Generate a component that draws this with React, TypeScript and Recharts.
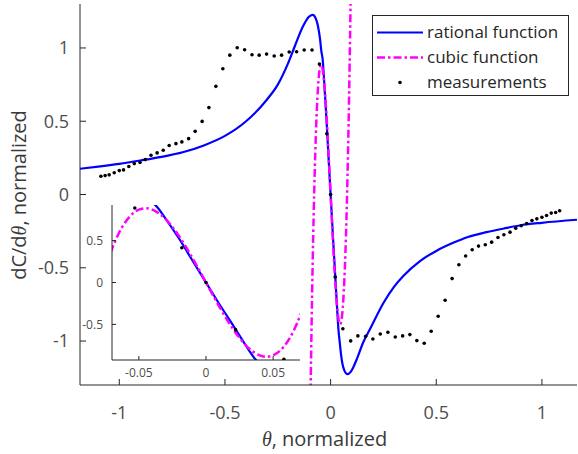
import { ComposedChart, Line, Scatter, XAxis, YAxis, Legend, CartesianGrid } from "recharts";

const rationalX = [
  -1.19, -1.1, -1.0, -0.9, -0.8, -0.7, -0.6, -0.5, -0.4, -0.3, -0.25, -0.2, -0.17, -0.13, -0.105, -0.085,
  -0.07, -0.06, -0.05, -0.044, -0.0375, -0.03, -0.0195, -0.01, 0, 0.01, 0.0205, 0.03, 0.0368, 0.044,
  0.05, 0.06, 0.079, 0.095, 0.107, 0.125, 0.154, 0.186, 0.25, 0.3, 0.344, 0.423, 0.5, 0.58, 0.65,
  0.738, 0.82, 0.9, 1.0, 1.17,
];
const rationalY = [
  0.175, 0.19, 0.209, 0.232, 0.257, 0.288, 0.335, 0.4, 0.5, 0.65, 0.75, 0.9, 1.01, 1.15, 1.21, 1.226,
  1.2, 1.15, 1.06, 0.98, 0.92, 0.76, 0.51, 0.26, 0, -0.26, -0.52, -0.76, -0.917, -1.02,
  -1.1, -1.18, -1.226, -1.21, -1.18, -1.12, -1.01, -0.92, -0.74, -0.63, -0.556, -0.454, -0.385, -0.33, -0.29,
  -0.257, -0.232, -0.21, -0.193, -0.172,
];

const cubicX = [
  -0.097, -0.094, -0.09, -0.085, -0.08, -0.075, -0.07, -0.065, -0.06, -0.055, -0.05, -0.045, -0.04, -0.035,
  -0.03, -0.025, -0.02, -0.015, -0.01, -0.005, 0, 0.005, 0.01, 0.015, 0.02, 0.025, 0.03, 0.035, 0.04, 0.045,
  0.05, 0.055, 0.06, 0.065, 0.07, 0.075, 0.08, 0.085, 0.09, 0.094, 0.097,
];
const cubicY = [
  -1.57, -1.26, -0.886, -0.475, -0.126, 0.164, 0.4, 0.585, 0.722, 0.816, 0.869, 0.886, 0.87, 0.825,
  0.755, 0.662, 0.552, 0.427, 0.29, 0.147, 0, -0.147, -0.29, -0.427, -0.552, -0.662, -0.755, -0.825, -0.87, -0.886,
  -0.869, -0.816, -0.722, -0.585, -0.4, -0.164, 0.126, 0.475, 0.886, 1.26, 1.57,
];

const measX = [
  -1.087, -1.067, -1.048, -1.024, -1.0, -0.98, -0.955, -0.929, -0.902, -0.877, -0.85, -0.821, -0.792, -0.764,
  -0.732, -0.704, -0.672, -0.641, -0.608, -0.576, -0.543, -0.51, -0.477, -0.442, -0.407, -0.372, -0.338, -0.303,
  -0.267, -0.232, -0.196, -0.161, -0.125, -0.088, -0.053, -0.018, 0, 0.022, 0.058, 0.095, 0.129, 0.166, 0.2,
  0.235, 0.271, 0.306, 0.341, 0.375, 0.408, 0.443, 0.476, 0.509, 0.542, 0.575, 0.607, 0.639, 0.67, 0.7, 0.732,
  0.762, 0.792, 0.82, 0.849, 0.876, 0.902, 0.928, 0.953, 0.976, 1.0, 1.022, 1.044, 1.065, 1.084,
];
const measY = [
  0.125, 0.129, 0.134, 0.148, 0.163, 0.168, 0.191, 0.211, 0.218, 0.238, 0.268, 0.284, 0.302, 0.334,
  0.347, 0.359, 0.381, 0.431, 0.499, 0.593, 0.738, 0.858, 0.951, 1.001, 0.988, 0.954, 0.951, 0.958,
  0.945, 0.951, 0.972, 0.974, 0.986, 0.986, 0.89, 0.414, 0, -0.563, -0.916, -0.999, -0.965, -0.967, -0.986,
  -0.952, -0.94, -0.972, -0.965, -0.956, -0.997, -1.015, -0.933, -0.831, -0.722, -0.574, -0.479, -0.42, -0.377, -0.352, -0.343,
  -0.325, -0.293, -0.275, -0.257, -0.23, -0.213, -0.198, -0.177, -0.166, -0.155, -0.143, -0.127, -0.123, -0.111,
];

const mainXTicks = [-1, -0.5, 0, 0.5, 1];
const mainYTicks = [-1, -0.5, 0, 0.5, 1];
const insetXTicks = [-0.05, 0, 0.05];
const insetYTicks = [-0.5, 0, 0.5];
const seriesNames = ["rational function", "cubic function", "measurements"];

const rational = rationalX.map((x, i) => ({ x, y: rationalY[i] }));
const cubic = cubicX.map((x, i) => ({ x, y: cubicY[i] }));
const measurements = measX.map((x, i) => ({ x, y: measY[i] }));

const FONT = '"Open Sans", "Noto Sans", sans-serif';
const AXIS = "#262626";
const TICK_TEXT = "#4d4d4d";
const BLUE = "#0000ff";
const MAGENTA = "#ff00ff";
const DASH = "8 3 2.5 3";

const dotShape = (p: any) => <circle cx={p.cx} cy={p.cy} r={1.8} fill="#000" />;

function LegendBox(props: any) {
  const payload = [...(props.payload || [])].sort(
    (a: any, b: any) => seriesNames.indexOf(a.value) - seriesNames.indexOf(b.value)
  );
  return (
    <svg width={197} height={81} style={{ display: "block" }}>
      <rect x={0.5} y={0.5} width={196} height={80} fill="#fff" stroke={AXIS} />
      {payload.map((e: any, i: number) => {
        const cy = 17.5 + i * 25;
        return (
          <g key={e.value}>
            {e.value === "measurements" ? (
              <circle cx={28} cy={cy} r={1.8} fill="#000" />
            ) : (
              <line
                x1={5}
                x2={51}
                y1={cy}
                y2={cy}
                stroke={e.value === "cubic function" ? MAGENTA : BLUE}
                strokeWidth={e.value === "cubic function" ? 2.5 : 2.2}
                strokeDasharray={e.value === "cubic function" ? DASH : undefined}
              />
            )}
            <text x={55} y={cy} dy="0.35em" fontSize={17} fill={AXIS} fontFamily={FONT}>
              {e.value}
            </text>
          </g>
        );
      })}
    </svg>
  );
}

export default function App() {
  return (
    <div style={{ position: "absolute", left: 0, top: 0, width: 578, height: 454, background: "#fff", fontFamily: FONT }}>
      <ComposedChart width={578} height={454} margin={{ top: 4, right: 1, left: 10, bottom: 0 }}>
        <XAxis
          xAxisId="b"
          type="number"
          dataKey="x"
          domain={[-1.186, 1.166]}
          allowDataOverflow
          ticks={mainXTicks}
          height={69}
          tickSize={-6}
          tickMargin={27}
          stroke={AXIS}
          tick={{ fontSize: 18, fill: TICK_TEXT, fontFamily: FONT }}
          tickFormatter={(v: number) => String(v)}
          label={{
            content: () => (
              <text x={324.5} y={446} textAnchor="middle" fontSize={20} fill="#3a3a3a" fontFamily={FONT}>
                <tspan fontFamily='"Liberation Serif", serif' fontStyle="italic">θ</tspan>, normalized
              </text>
            ),
          }}
        />
        <XAxis
          xAxisId="t"
          orientation="top"
          type="number"
          dataKey="x"
          domain={[-1.186, 1.166]}
          allowDataOverflow
          ticks={mainXTicks}
          height={0}
          tickSize={-6}
          tick={false}
          stroke={AXIS}
        />
        <YAxis
          yAxisId="l"
          type="number"
          dataKey="y"
          domain={[-1.3, 1.3]}
          allowDataOverflow
          ticks={mainYTicks}
          width={70}
          tickSize={-6}
          tickMargin={17}
          stroke={AXIS}
          tick={{ fontSize: 18, fill: TICK_TEXT, fontFamily: FONT }}
          label={{
            content: () => (
              <text x={26} y={195} transform="rotate(-90 26 195)" textAnchor="middle" fontSize={20} fill="#3a3a3a" fontFamily={FONT}>
                dC/d<tspan fontFamily='"Liberation Serif", serif' fontStyle="italic">θ</tspan>, normalized
              </text>
            ),
          }}
        />
        <YAxis
          yAxisId="r"
          orientation="right"
          type="number"
          dataKey="y"
          domain={[-1.3, 1.3]}
          allowDataOverflow
          ticks={mainYTicks}
          width={0}
          tickSize={-6}
          tick={false}
          stroke={AXIS}
        />
        <Line xAxisId="b" yAxisId="l" data={rational} dataKey="y" name="rational function" type="monotone"
          stroke={BLUE} strokeWidth={2.2} dot={false} activeDot={false} isAnimationActive={false} />
        <Line xAxisId="b" yAxisId="l" data={cubic} dataKey="y" name="cubic function" type="monotone"
          stroke={MAGENTA} strokeWidth={2.5} strokeDasharray={DASH} dot={false} activeDot={false} isAnimationActive={false} />
        <Scatter xAxisId="b" yAxisId="l" data={measurements} dataKey="y" name="measurements" fill="#000"
          shape={dotShape} isAnimationActive={false} />
        <Legend
          layout="vertical"
          align="center"
          verticalAlign="middle"
          content={<LegendBox />}
          wrapperStyle={{ position: "absolute", left: 372, top: 15, width: 197, height: 81 }}
        />
      </ComposedChart>

      <div style={{ position: "absolute", left: 72, top: 200 }}>
        <ComposedChart width={230} height={190} margin={{ top: 5, right: 2, left: 0, bottom: 0 }}>
          <CartesianGrid xAxisId="b" yAxisId="l" fill="#fff" horizontal={false} vertical={false} />
          <XAxis
            xAxisId="b"
            type="number"
            dataKey="x"
            domain={[-0.07, 0.07]}
            allowDataOverflow
            ticks={insetXTicks}
            height={30}
            tickSize={-4}
            tickMargin={12}
            stroke={AXIS}
            tick={{ fontSize: 12, fill: TICK_TEXT, fontFamily: FONT }}
            tickFormatter={(v: number) => String(v)}
          />
          <XAxis xAxisId="t" orientation="top" type="number" dataKey="x" domain={[-0.07, 0.07]} allowDataOverflow
            ticks={insetXTicks} height={0} tickSize={-4} tick={false} stroke={AXIS} />
          <YAxis
            yAxisId="l"
            type="number"
            dataKey="y"
            domain={[-0.925, 0.925]}
            allowDataOverflow
            ticks={insetYTicks}
            width={40}
            tickSize={-4}
            tickMargin={13}
            stroke={AXIS}
            tick={{ fontSize: 12, fill: TICK_TEXT, fontFamily: FONT }}
          />
          <YAxis yAxisId="r" orientation="right" type="number" dataKey="y" domain={[-0.925, 0.925]} allowDataOverflow
            ticks={insetYTicks} width={0} tickSize={-4} tick={false} stroke={AXIS} />
          <Line xAxisId="b" yAxisId="l" data={rational} dataKey="y" type="monotone"
            stroke={BLUE} strokeWidth={2.2} dot={false} activeDot={false} isAnimationActive={false} />
          <Line xAxisId="b" yAxisId="l" data={cubic} dataKey="y" type="monotone"
            stroke={MAGENTA} strokeWidth={2.5} strokeDasharray={DASH} dot={false} activeDot={false} isAnimationActive={false} />
          <Scatter xAxisId="b" yAxisId="l" data={measurements} dataKey="y" fill="#000"
            shape={dotShape} isAnimationActive={false} />
        </ComposedChart>
      </div>
    </div>
  );
}
